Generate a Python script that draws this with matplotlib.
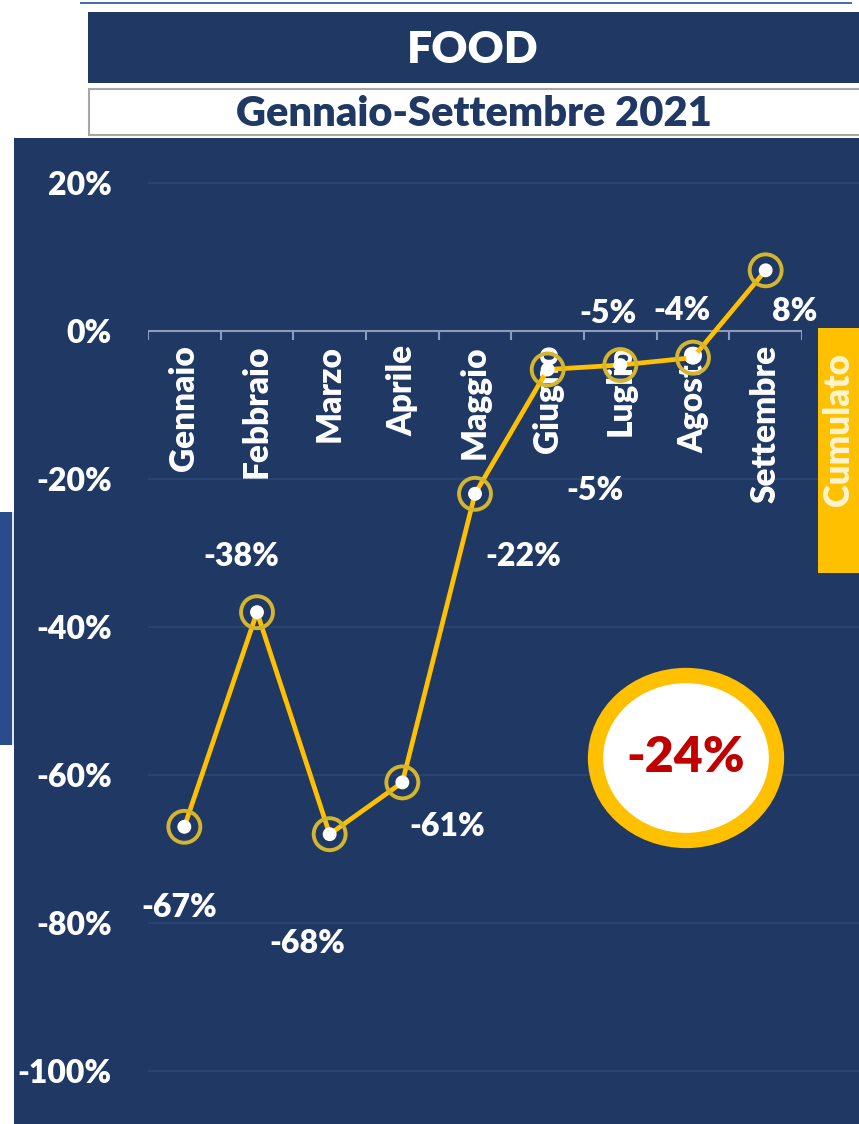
import matplotlib.pyplot as plt
from matplotlib.patches import Rectangle, Ellipse
import numpy as np

# data
months = ["Gennaio", "Febbraio", "Marzo", "Aprile", "Maggio",
          "Giugno", "Luglio", "Agosto", "Settembre"]
values = [-67, -38, -68, -61, -22, -5.2, -4.6, -3.6, 8.2]
# label offsets (points) relative to each point
label_dx = [-4, -11, -16, 32, 35, 34, -9, -8, 21]
label_dy = [-58, 40, -79, -32, -45, -87, 37, 34, -30]
yticks = [20, 0, -20, -40, -60, -80, -100]
title = "FOOD"
subtitle = "Gennaio-Settembre 2021"
cumulato_label = "Cumulato"
cumulato_value = "-24%"

W, H = 859, 1124
NAVY = "#203864"
GOLD = "#FFC000"

plt.rcParams['font.family'] = ['Lato', 'DejaVu Sans']
plt.rcParams['font.weight'] = 'bold'

fig = plt.figure(figsize=(W / 100, H / 100), dpi=100)
fig.patch.set_facecolor("white")


def px_rect(x0, y0, x1, y1, **kw):
    r = Rectangle((x0 / W, 1 - y1 / H), (x1 - x0) / W, (y1 - y0) / H,
                  transform=fig.transFigure, **kw)
    fig.patches.append(r)
    return r


def px_text(x, y, s, **kw):
    return fig.text(x / W, 1 - y / H, s, ha="center", va="center", **kw)


# header blocks
px_rect(80, 2, 852, 4, fc="#4A6DB0", ec="none", zorder=0)
px_rect(88, 12, 859, 83, fc=NAVY, ec="none", zorder=0)
px_rect(89, 89, 862, 135, fc="white", ec="#A6A6A6", lw=1.5, zorder=0)
px_text(473, 50, title, color="white", fontsize=32, fontweight="heavy")
px_text(474, 114, subtitle, color=NAVY, fontsize=30, fontweight="heavy")

# main panel
px_rect(14, 138, 859, 1124, fc=NAVY, ec="none", zorder=0)
px_rect(0, 512, 12, 745, fc="#2B4C8C", ec="none", zorder=0)
px_rect(12, 512, 14, 745, fc="#DDE6F5", ec="none", zorder=0)

ax = fig.add_axes([148 / W, 1 - 1108 / H, 654 / W, (1108 - 146) / H])
ax.set_zorder(1)
ax.set_facecolor("none")
ax.set_xlim(-0.5, len(months) - 0.5)
ax.set_ylim(-105, 25)
for s in ax.spines.values():
    s.set_visible(False)

x = np.arange(len(months))
grid_y = [v for v in yticks if v != 0]
ax.hlines(grid_y, -0.5, 9.3, color="#2B4675", lw=1.3, clip_on=False, zorder=1)
ax.axhline(0, color="#8C9CBA", lw=1.5, zorder=1)
ax.vlines(np.arange(len(months) + 1) - 0.5, -1.2, 0, color="#8C9CBA", lw=1.5, zorder=1)

ax.set_xticks([])
ax.set_yticks(yticks)
ax.set_yticklabels([f"{v}%" for v in yticks], color="white", fontsize=23,
                   fontweight="heavy")
ax.tick_params(axis="y", length=0, pad=26)

for i, m in enumerate(months):
    ax.annotate(m, (i, 0), xytext=(0, -10), textcoords="offset points",
                rotation=90, ha="center", va="top", color="white",
                fontsize=24, fontweight="heavy", zorder=2)

ax.plot(x, values, color=GOLD, lw=3.4, zorder=3, solid_joinstyle="miter")
ax.scatter(x, values, s=23 ** 2, facecolors="none", edgecolors="#D4B530",
           linewidths=2.8, zorder=4)
ax.scatter(x, values, s=10 ** 2, facecolors="white", edgecolors="none", zorder=5)

for i, v in enumerate(values):
    ax.annotate(f"{round(v)}%", (i, v), xytext=(label_dx[i], label_dy[i]),
                textcoords="offset points", ha="center", va="center",
                color="white", fontsize=23, fontweight="heavy", zorder=6)

# cumulato box
px_rect(818, 328, 859, 573, fc=GOLD, ec="none", zorder=2)
px_text(839, 430, cumulato_label, color="#FFF4D0", fontsize=25,
        fontweight="heavy", rotation=90, zorder=3)

# cumulated value ellipse
e = Ellipse((686 / W, 1 - 758 / H), 181 / W, 165 / H, transform=fig.transFigure,
            fc="white", ec=GOLD, lw=11, zorder=3)
fig.patches.append(e)
px_text(686, 758, cumulato_value, color="#C00000", fontsize=36,
        fontweight="heavy", zorder=4)

plt.savefig("out.png", dpi=100)
